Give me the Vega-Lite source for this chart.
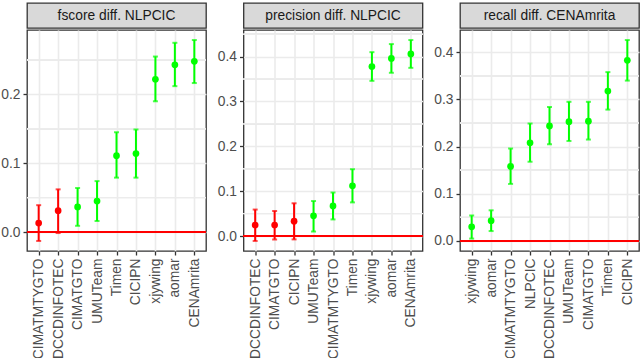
{
  "$schema": "https://vega.github.io/schema/vega-lite/v6.json",
  "padding": {"left": 0, "top": 2, "right": 0, "bottom": 0},
  "datasets": {
    "d": [
      {"panel": "f", "team": "CIMATMTYGTO", "est": 0.013, "lo": -0.013, "hi": 0.039, "sig": "no"},
      {"panel": "f", "team": "DCCDINFOTEC", "est": 0.031, "lo": -0.0015, "hi": 0.062, "sig": "no"},
      {"panel": "f", "team": "CIMATGTO", "est": 0.0365, "lo": 0.009, "hi": 0.064, "sig": "yes"},
      {"panel": "f", "team": "UMUTeam", "est": 0.045, "lo": 0.016, "hi": 0.074, "sig": "yes"},
      {"panel": "f", "team": "Timen", "est": 0.111, "lo": 0.079, "hi": 0.145, "sig": "yes"},
      {"panel": "f", "team": "CICIPN", "est": 0.114, "lo": 0.079, "hi": 0.149, "sig": "yes"},
      {"panel": "f", "team": "xjywing", "est": 0.222, "lo": 0.19, "hi": 0.255, "sig": "yes"},
      {"panel": "f", "team": "aomar", "est": 0.243, "lo": 0.212, "hi": 0.275, "sig": "yes"},
      {"panel": "f", "team": "CENAmrita", "est": 0.248, "lo": 0.2165, "hi": 0.279, "sig": "yes"},
      {"panel": "p", "team": "DCCDINFOTEC", "est": 0.0246, "lo": -0.011, "hi": 0.059, "sig": "no"},
      {"panel": "p", "team": "CIMATGTO", "est": 0.0246, "lo": -0.0075, "hi": 0.056, "sig": "no"},
      {"panel": "p", "team": "CICIPN", "est": 0.033, "lo": -0.0075, "hi": 0.073, "sig": "no"},
      {"panel": "p", "team": "UMUTeam", "est": 0.045, "lo": 0.01, "hi": 0.078, "sig": "yes"},
      {"panel": "p", "team": "CIMATMTYGTO", "est": 0.067, "lo": 0.037, "hi": 0.097, "sig": "yes"},
      {"panel": "p", "team": "Timen", "est": 0.112, "lo": 0.075, "hi": 0.149, "sig": "yes"},
      {"panel": "p", "team": "xjywing", "est": 0.378, "lo": 0.346, "hi": 0.41, "sig": "yes"},
      {"panel": "p", "team": "aomar", "est": 0.396, "lo": 0.364, "hi": 0.428, "sig": "yes"},
      {"panel": "p", "team": "CENAmrita", "est": 0.406, "lo": 0.375, "hi": 0.437, "sig": "yes"},
      {"panel": "r", "team": "xjywing", "est": 0.03, "lo": 0.005, "hi": 0.054, "sig": "yes"},
      {"panel": "r", "team": "aomar", "est": 0.043, "lo": 0.021, "hi": 0.065, "sig": "yes"},
      {"panel": "r", "team": "CIMATMTYGTO", "est": 0.158, "lo": 0.121, "hi": 0.196, "sig": "yes"},
      {"panel": "r", "team": "NLPCIC", "est": 0.208, "lo": 0.168, "hi": 0.249, "sig": "yes"},
      {"panel": "r", "team": "DCCDINFOTEC", "est": 0.244, "lo": 0.205, "hi": 0.284, "sig": "yes"},
      {"panel": "r", "team": "UMUTeam", "est": 0.253, "lo": 0.212, "hi": 0.295, "sig": "yes"},
      {"panel": "r", "team": "CIMATGTO", "est": 0.254, "lo": 0.215, "hi": 0.295, "sig": "yes"},
      {"panel": "r", "team": "Timen", "est": 0.318, "lo": 0.2785, "hi": 0.358, "sig": "yes"},
      {"panel": "r", "team": "CICIPN", "est": 0.383, "lo": 0.34, "hi": 0.426, "sig": "yes"}
    ]
  },
  "align": "none",
  "spacing": 8.5,
  "hconcat": [
    {
      "spacing": 0,
      "vconcat": [
        {
          "width": 179, "height": 25,
          "view": {"fill": "#D9D9D9", "stroke": "#333333", "strokeWidth": 1.3},
          "data": {"values": [{"t": "fscore diff. NLPCIC"}]},
          "mark": {"type": "text", "fontSize": 13.8, "color": "#1A1A1A", "baseline": "middle"},
          "encoding": {"text": {"field": "t"}}
        },
        {
          "width": 179, "height": 221,
          "data": {"name": "d"},
          "transform": [{"filter": "datum.panel === 'f'"}],
          "layer": [
            {"mark": {"type": "rule", "color": "#EBEBEB", "strokeWidth": 0.8}, "encoding": {"y": {"datum": 0.05, "type": "quantitative", "scale": {"domain": [-0.0276, 0.2936], "nice": false, "zero": false}, "axis": {"values": [0, 0.1, 0.2], "format": ".1f", "grid": true, "title": null}}}},
            {"mark": {"type": "rule", "color": "#EBEBEB", "strokeWidth": 0.8}, "encoding": {"y": {"datum": 0.15, "type": "quantitative"}}},
            {"mark": {"type": "rule", "color": "#EBEBEB", "strokeWidth": 0.8}, "encoding": {"y": {"datum": 0.25, "type": "quantitative"}}},
            {
              "encoding": {
                "x": {"field": "team", "type": "nominal", "sort": ["CIMATMTYGTO","DCCDINFOTEC","CIMATGTO","UMUTeam","Timen","CICIPN","xjywing","aomar","CENAmrita"], "scale": {"type": "point", "padding": 0.6}, "axis": {"labelAngle": 270, "grid": true, "title": null}},
                "color": {"field": "sig", "type": "nominal", "scale": {"domain": ["no", "yes"], "range": ["#FF0000", "#00FF00"]}, "legend": null}
              },
              "layer": [
                {"mark": {"type": "rule", "strokeWidth": 2}, "encoding": {"y": {"field": "lo", "type": "quantitative"}, "y2": {"field": "hi"}}},
                {"mark": {"type": "tick", "orient": "horizontal", "size": 5, "thickness": 2}, "encoding": {"y": {"field": "lo", "type": "quantitative"}}},
                {"mark": {"type": "tick", "orient": "horizontal", "size": 5, "thickness": 2}, "encoding": {"y": {"field": "hi", "type": "quantitative"}}},
                {"mark": {"type": "point", "filled": true, "size": 45, "opacity": 1}, "encoding": {"y": {"field": "est", "type": "quantitative"}}}
              ]
            },
            {"mark": {"type": "rule", "color": "#FF0000", "strokeWidth": 2}, "encoding": {"y": {"datum": 0, "type": "quantitative"}}}
          ]
        }
      ]
    },
    {
      "spacing": 0,
      "vconcat": [
        {
          "width": 179, "height": 25,
          "view": {"fill": "#D9D9D9", "stroke": "#333333", "strokeWidth": 1.3},
          "data": {"values": [{"t": "precision diff. NLPCIC"}]},
          "mark": {"type": "text", "fontSize": 13.8, "color": "#1A1A1A", "baseline": "middle"},
          "encoding": {"text": {"field": "t"}}
        },
        {
          "width": 179, "height": 221,
          "data": {"name": "d"},
          "transform": [{"filter": "datum.panel === 'p'"}],
          "layer": [
            {"mark": {"type": "rule", "color": "#EBEBEB", "strokeWidth": 0.8}, "encoding": {"y": {"datum": 0.05, "type": "quantitative", "scale": {"domain": [-0.0334, 0.4594], "nice": false, "zero": false}, "axis": {"values": [0, 0.1, 0.2, 0.3, 0.4], "format": ".1f", "grid": true, "title": null}}}},
            {"mark": {"type": "rule", "color": "#EBEBEB", "strokeWidth": 0.8}, "encoding": {"y": {"datum": 0.15, "type": "quantitative"}}},
            {"mark": {"type": "rule", "color": "#EBEBEB", "strokeWidth": 0.8}, "encoding": {"y": {"datum": 0.25, "type": "quantitative"}}},
            {"mark": {"type": "rule", "color": "#EBEBEB", "strokeWidth": 0.8}, "encoding": {"y": {"datum": 0.35, "type": "quantitative"}}},
            {"mark": {"type": "rule", "color": "#EBEBEB", "strokeWidth": 0.8}, "encoding": {"y": {"datum": 0.45, "type": "quantitative"}}},
            {
              "encoding": {
                "x": {"field": "team", "type": "nominal", "sort": ["DCCDINFOTEC","CIMATGTO","CICIPN","UMUTeam","CIMATMTYGTO","Timen","xjywing","aomar","CENAmrita"], "scale": {"type": "point", "padding": 0.6}, "axis": {"labelAngle": 270, "grid": true, "title": null}},
                "color": {"field": "sig", "type": "nominal", "scale": {"domain": ["no", "yes"], "range": ["#FF0000", "#00FF00"]}, "legend": null}
              },
              "layer": [
                {"mark": {"type": "rule", "strokeWidth": 2}, "encoding": {"y": {"field": "lo", "type": "quantitative"}, "y2": {"field": "hi"}}},
                {"mark": {"type": "tick", "orient": "horizontal", "size": 5, "thickness": 2}, "encoding": {"y": {"field": "lo", "type": "quantitative"}}},
                {"mark": {"type": "tick", "orient": "horizontal", "size": 5, "thickness": 2}, "encoding": {"y": {"field": "hi", "type": "quantitative"}}},
                {"mark": {"type": "point", "filled": true, "size": 45, "opacity": 1}, "encoding": {"y": {"field": "est", "type": "quantitative"}}}
              ]
            },
            {"mark": {"type": "rule", "color": "#FF0000", "strokeWidth": 2}, "encoding": {"y": {"datum": 0, "type": "quantitative"}}}
          ]
        }
      ]
    },
    {
      "spacing": 0,
      "vconcat": [
        {
          "width": 179, "height": 25,
          "view": {"fill": "#D9D9D9", "stroke": "#333333", "strokeWidth": 1.3},
          "data": {"values": [{"t": "recall diff. CENAmrita"}]},
          "mark": {"type": "text", "fontSize": 13.8, "color": "#1A1A1A", "baseline": "middle"},
          "encoding": {"text": {"field": "t"}}
        },
        {
          "width": 179, "height": 221,
          "data": {"name": "d"},
          "transform": [{"filter": "datum.panel === 'r'"}],
          "layer": [
            {"mark": {"type": "rule", "color": "#EBEBEB", "strokeWidth": 0.8}, "encoding": {"y": {"datum": 0.05, "type": "quantitative", "scale": {"domain": [-0.0213, 0.4473], "nice": false, "zero": false}, "axis": {"values": [0, 0.1, 0.2, 0.3, 0.4], "format": ".1f", "grid": true, "title": null}}}},
            {"mark": {"type": "rule", "color": "#EBEBEB", "strokeWidth": 0.8}, "encoding": {"y": {"datum": 0.15, "type": "quantitative"}}},
            {"mark": {"type": "rule", "color": "#EBEBEB", "strokeWidth": 0.8}, "encoding": {"y": {"datum": 0.25, "type": "quantitative"}}},
            {"mark": {"type": "rule", "color": "#EBEBEB", "strokeWidth": 0.8}, "encoding": {"y": {"datum": 0.35, "type": "quantitative"}}},
            {
              "encoding": {
                "x": {"field": "team", "type": "nominal", "sort": ["xjywing","aomar","CIMATMTYGTO","NLPCIC","DCCDINFOTEC","UMUTeam","CIMATGTO","Timen","CICIPN"], "scale": {"type": "point", "padding": 0.6}, "axis": {"labelAngle": 270, "grid": true, "title": null}},
                "color": {"field": "sig", "type": "nominal", "scale": {"domain": ["no", "yes"], "range": ["#FF0000", "#00FF00"]}, "legend": null}
              },
              "layer": [
                {"mark": {"type": "rule", "strokeWidth": 2}, "encoding": {"y": {"field": "lo", "type": "quantitative"}, "y2": {"field": "hi"}}},
                {"mark": {"type": "tick", "orient": "horizontal", "size": 5, "thickness": 2}, "encoding": {"y": {"field": "lo", "type": "quantitative"}}},
                {"mark": {"type": "tick", "orient": "horizontal", "size": 5, "thickness": 2}, "encoding": {"y": {"field": "hi", "type": "quantitative"}}},
                {"mark": {"type": "point", "filled": true, "size": 45, "opacity": 1}, "encoding": {"y": {"field": "est", "type": "quantitative"}}}
              ]
            },
            {"mark": {"type": "rule", "color": "#FF0000", "strokeWidth": 2}, "encoding": {"y": {"datum": 0, "type": "quantitative"}}}
          ]
        }
      ]
    }
  ],
  "config": {
    "font": "Liberation Sans",
    "view": {"stroke": "#333333", "strokeWidth": 1.3},
    "axis": {
      "domain": false,
      "title": null,
      "labelFont": "Liberation Sans",
      "labelFontSize": 13.8,
      "labelColor": "#4D4D4D",
      "labelPadding": 3,
      "tickColor": "#333333",
      "tickSize": 4,
      "tickWidth": 1.3,
      "gridColor": "#EBEBEB",
      "gridWidth": 1.6,
      "minExtent": 0
    },
    "axisY": {"minExtent": 0}
  }
}
